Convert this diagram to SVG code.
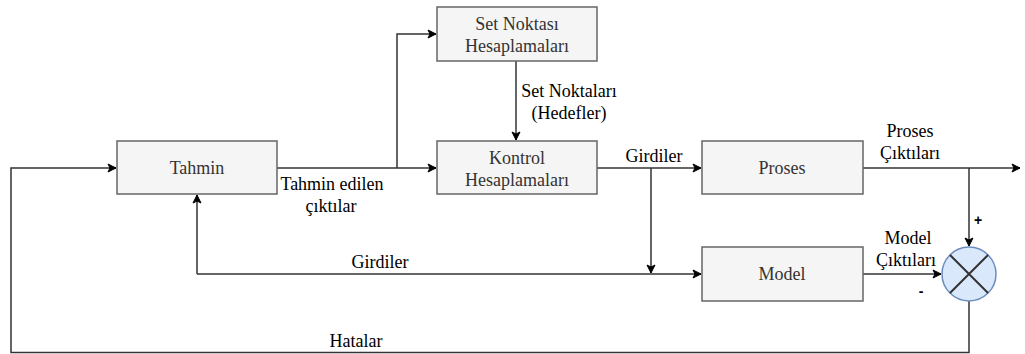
<svg xmlns="http://www.w3.org/2000/svg" width="1025" height="354" viewBox="0 0 1025 354">
<defs>
<marker id="arr" markerWidth="10" markerHeight="10" refX="9" refY="5" orient="auto" markerUnits="userSpaceOnUse">
<path d="M1,1 L9,5 L1,9 L3,5 Z" fill="#000" stroke="#000" stroke-width="1"/>
</marker>
<style>
.box{fill:#f5f5f5;stroke:#666666;stroke-width:1.5}
.ln{fill:none;stroke:#333333;stroke-width:1.5}
</style>
</defs>
<rect width="1025" height="354" fill="#ffffff"/>
<g id="connectors">
<path class="ln" d="M277,168 L436,168" marker-end="url(#arr)"/>
<path class="ln" d="M397,168 L397,34 L436,34" marker-end="url(#arr)"/>
<path class="ln" d="M516,61 L516,140" marker-end="url(#arr)"/>
<path class="ln" d="M597,168 L701,168" marker-end="url(#arr)"/>
<path class="ln" d="M651,168 L651,273" marker-end="url(#arr)"/>
<path class="ln" d="M197,274 L701,274" marker-end="url(#arr)"/>
<path class="ln" d="M197,274 L197,195" marker-end="url(#arr)"/>
<path class="ln" d="M863,168 L1020,168" marker-end="url(#arr)"/>
<path class="ln" d="M969,168 L969,246" marker-end="url(#arr)"/>
<path class="ln" d="M863,274 L941,274" marker-end="url(#arr)"/>
<path class="ln" d="M969,301 L969,352.5 L11,352.5 L11,168 L116,168" marker-end="url(#arr)"/>
<g font-family="Liberation Serif, Times New Roman, serif" font-size="18" fill="#000000" text-anchor="middle">
<text x="332" y="190">Tahmin edilen</text>
<text x="331" y="212">çıktılar</text>
<text x="569" y="97">Set Noktaları</text>
<text x="569" y="119">(Hedefler)</text>
<text x="654" y="162">Girdiler</text>
<text x="380" y="268">Girdiler</text>
<text x="356" y="347">Hatalar</text>
<text x="910" y="137">Proses</text>
<text x="910" y="159">Çıktıları</text>
<text x="908" y="244">Model</text>
<text x="906" y="266">Çıktıları</text>
</g>
<g font-family="Liberation Sans, Arial, sans-serif" font-size="14" font-weight="bold" fill="#000000" text-anchor="middle">
<text x="978" y="225">+</text>
<text x="921" y="296">-</text>
</g>
</g>
<g font-family="Liberation Serif, Times New Roman, serif" font-size="18" fill="#333333" text-anchor="middle">
<g id="tahmin"><rect class="box" x="117" y="141" width="160" height="53"/><text x="197" y="174">Tahmin</text></g>
<g id="setnoktasi"><rect class="box" x="437" y="7" width="160" height="54"/><text x="517" y="30">Set Noktası</text><text x="517" y="52">Hesaplamaları</text></g>
<g id="kontrol"><rect class="box" x="437" y="141" width="160" height="53"/><text x="517" y="164">Kontrol</text><text x="517" y="186">Hesaplamaları</text></g>
<g id="proses"><rect class="box" x="702" y="141" width="161" height="53"/><text x="782" y="174">Proses</text></g>
<g id="model"><rect class="box" x="702" y="247" width="161" height="54"/><text x="782" y="280">Model</text></g>
</g>
<g id="sum"><circle cx="969" cy="274" r="27" fill="#dae8fc" stroke="#6c8ebf" stroke-width="1.5"/><path d="M950,255 L988,293 M988,255 L950,293" stroke="#333333" stroke-width="2"/></g>
</svg>
